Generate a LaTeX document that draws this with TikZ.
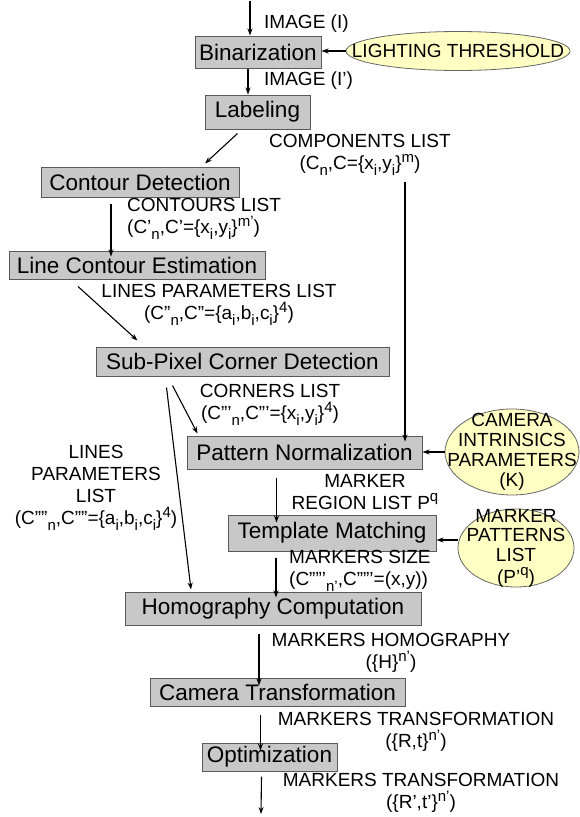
\documentclass[tikz,border=0pt]{standalone}
\usepackage{fontspec}
\setmainfont{Liberation Sans}
\usetikzlibrary{positioning, shapes.geometric, arrows.meta}

\definecolor{boxfill}{RGB}{200,200,200}
\definecolor{ovalfill}{RGB}{255,255,196}
\newcommand{\lo}[1]{\raisebox{-0.3em}{\fontsize{15}{15}\selectfont #1}}
\newcommand{\hi}[1]{\raisebox{0.4em}{\fontsize{15}{15}\selectfont #1}}

\tikzset{
  stage/.style={draw=black!65, line width=1pt, fill=boxfill, rectangle, inner sep=0pt, font=\fontsize{22.5}{26}\selectfont},
  param/.style={draw=black!60, line width=0.8pt, fill=ovalfill, ellipse, inner sep=0pt},
  tag/.style={font=\fontsize{19}{22}\selectfont, inner sep=0pt, align=center},
  flow/.style={-{Stealth[length=7pt, width=5pt]}, line width=1.1pt},
}

\begin{document}
\begin{tikzpicture}[x=1pt, y=-1pt]
\useasboundingbox (0,0) rectangle (580,817);

\node (bin) [stage, minimum width=126, minimum height=32] at (258,52) {Binarization};
\node (lab) [stage, minimum width=105, minimum height=34] at (257.5,112) {Labeling};
\node (cont) [stage, minimum width=198, minimum height=30] at (140,182) {Contour Detection};
\node (line) [stage, minimum width=256, minimum height=28] at (137,265) {Line Contour Estimation};
\node (sub) [stage, minimum width=293, minimum height=29] at (242.5,361.5) {Sub-Pixel Corner Detection};
\node (patt) [stage, minimum width=235, minimum height=33] at (304.5,452.5) {Pattern Normalization};
\node (templ) [stage, minimum width=208, minimum height=36] at (332,533) {Template Matching};
\node (homo) [stage, minimum width=296, minimum height=33] at (273,608.5) {Homography Computation};
\node (cam) [stage, minimum width=255, minimum height=28] at (277.5,692) {Camera Transformation};
\node (opt) [stage, minimum width=135, minimum height=28] at (269.5,757) {Optimization};

\node (light) [param, minimum width=224, minimum height=39, label={[tag, name=lightT]center:LIGHTING THRESHOLD}] at (458,51) {};
\node (camp) [param, minimum width=134, minimum height=86, label={[tag, name=campT, font=\fontsize{19}{20}\selectfont]center:{CAMERA\\INTRINSICS\\PARAMETERS\\(K)}}] at (512,452) {};
\node (mpat) [param, minimum width=116, minimum height=78, label={[tag, name=mpatT, font=\fontsize{19}{19.5}\selectfont]center:{MARKER\\PATTERNS\\LIST\\[2.5pt](P'\hi{q})}}] at (516,548) {};

\node (img1) [tag, anchor=west] at (264,24) {IMAGE (I)};
\node (img2) [tag, anchor=west] at (264,81) {IMAGE (I')};
\node (comp) [tag] at (360,155) {COMPONENTS LIST\\(C\lo{n},C=\{x\lo{i},y\lo{i}\}\hi{m})};
\node (contl) [tag, anchor=west, align=left] at (127,219) {CONTOURS LIST\\(C'\lo{n},C'=\{x\lo{i},y\lo{i}\}\hi{m'})};
\node (linel) [tag] at (219,305) {LINES PARAMETERS LIST\\(C''\lo{n},C''=\{a\lo{i},b\lo{i},c\lo{i}\}\hi{4})};
\node (corn) [tag] at (270,405) {CORNERS LIST\\(C'''\lo{n},C'''=\{x\lo{i},y\lo{i}\}\hi{4})};
\node (linel2) [tag] at (96,488) {LINES\\PARAMETERS\\LIST\\(C''''\lo{n},C''''=\{a\lo{i},b\lo{i},c\lo{i}\}\hi{4})};
\node (mreg) [tag] at (365,492) {MARKER\\REGION LIST P\hi{q}};
\node (msize) [tag, anchor=west, align=left] at (289,571) {MARKERS SIZE\\(C'''''\lo{n'},C'''''=(x,y))};
\node (mhomo) [tag] at (391,653) {MARKERS HOMOGRAPHY\\(\{H\}\hi{n'})};
\node (mtr1) [tag] at (416,732) {MARKERS TRANSFORMATION\\(\{R,t\}\hi{n'})};
\node (mtr2) [tag] at (421,793) {MARKERS TRANSFORMATION\\(\{R',t'\}\hi{n'})};

\coordinate (in) at (250,1);
\coordinate (out) at (261,814);

\draw[flow] (in) -- (in |- bin.north);
\draw[flow] ([xshift=-10]bin.south) -- ([xshift=-10]bin.south |- lab.north);
\draw[flow] (light.west) -- (light.west -| bin.east);
\draw[flow] ([xshift=-20, yshift=-4]lab.south) -- ([xshift=65, yshift=3]cont.north);
\draw[flow] ([xshift=45, yshift=-6]comp.south) -- ([xshift=45, yshift=-6]comp.south |- patt.north);
\draw[flow] ([xshift=-29, yshift=-6]cont.south) -- ([xshift=-29, yshift=-6]cont.south |- line.north);
\draw[flow] ([xshift=-59, yshift=-7]line.south) -- ([xshift=-105, yshift=6]sub.north);
\draw[flow] ([xshift=-70, yshift=-9]sub.south) -- ([xshift=-107, yshift=2]patt.north);
\draw[flow] ([xshift=-76, yshift=-11]sub.south) -- ([xshift=-82, yshift=2]homo.north);
\draw[flow] (camp.west) -- (camp.west -| patt.east);
\draw[flow] ([xshift=-28, yshift=-8]patt.south) -- ([xshift=-28, yshift=-8]patt.south |- templ.north);
\draw[flow] ([yshift=8]mpat.west) -- ([yshift=8]mpat.west -| templ.east);
\draw[flow] ([xshift=-56, yshift=-6]templ.south) -- ([xshift=-56, yshift=-6]templ.south |- homo.north);
\draw[flow] ([xshift=-14, yshift=-8]homo.south) -- ([xshift=-14, yshift=-8]homo.south |- cam.north);
\draw[flow] ([xshift=-17, yshift=-8]cam.south) -- ([xshift=-17, yshift=-8]cam.south |- opt.north);
\draw[flow] ([xshift=-8, yshift=-5]opt.south) -- (out);
\end{tikzpicture}
\end{document}
